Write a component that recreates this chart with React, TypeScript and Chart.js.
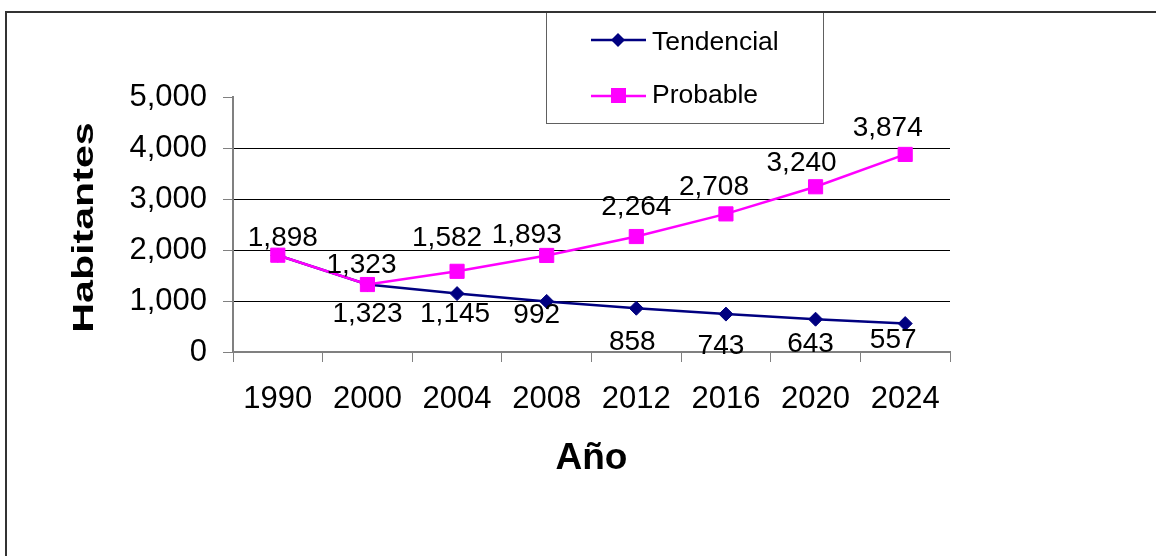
import React, { useEffect, useRef } from 'react';
import { Chart, registerables } from 'chart.js';

Chart.register(...registerables);

// ---- data ----
const years = ['1990', '2000', '2004', '2008', '2012', '2016', '2020', '2024'];
const tendencial = [1898, 1323, 1145, 992, 858, 743, 643, 557];
const probable = [1898, 1323, 1582, 1893, 2264, 2708, 3240, 3874];
const yTickValues = [0, 1000, 2000, 3000, 4000, 5000];
const seriesNames = ['Tendencial', 'Probable'];
const xTitle = 'Año';
const yTitle = 'Habitantes';

// ---- label placement (px nudges from each point; null = no label) ----
const tendencialLabelOffsets: (number[] | null)[] = [null, [0, 37], [-2, 28], [-10, 22], [-4, 42], [-5, 40], [-5, 33], [-12, 24]];
const probableLabelOffsets: (number[] | null)[] = [[5, -9], [-6, -11.5], [-10, -25], [-20, -12.5], [0, -21.5], [-12, -19], [-14, -16], [-17.5, -18]];

const FONT = '"Liberation Sans", Arial, Helvetica, sans-serif';
const NAVY = '#000080';
const MAGENTA = '#FF00FF';
const AXIS_GRAY = '#808080';

const fmt = (v: number) => String(v).replace(/\B(?=(\d{3})+(?!\d))/g, ',');

const decorPlugin = {
  id: 'decor',
  afterDatasetsDraw(chart: any) {
    const ctx = chart.ctx;
    ctx.save();
    ctx.font = `28px ${FONT}`;
    ctx.fillStyle = '#000';
    ctx.textAlign = 'center';
    ctx.textBaseline = 'alphabetic';
    const offsets = [tendencialLabelOffsets, probableLabelOffsets];
    chart.data.datasets.forEach((ds: any, di: number) => {
      const meta = chart.getDatasetMeta(di);
      meta.data.forEach((el: any, i: number) => {
        const o = offsets[di][i];
        if (!o) return;
        ctx.fillText(fmt(ds.data[i]), el.x + o[0], el.y + o[1]);
      });
    });
    ctx.restore();
  },
  afterDraw(chart: any) {
    const ctx = chart.ctx;
    ctx.save();
    // y axis title (stretched like the original)
    const area = chart.chartArea;
    ctx.save();
    ctx.translate(93, (area.top + area.bottom) / 2 + 3);
    ctx.rotate(-Math.PI / 2);
    ctx.scale(1.42, 1);
    ctx.font = `bold 29px ${FONT}`;
    ctx.fillStyle = '#000';
    ctx.textAlign = 'center';
    ctx.textBaseline = 'alphabetic';
    ctx.fillText(yTitle, 0, 0);
    ctx.restore();

    // legend box
    ctx.fillStyle = '#fff';
    ctx.fillRect(546, 12, 277, 111);
    ctx.strokeStyle = '#606060';
    ctx.lineWidth = 1;
    ctx.strokeRect(546.5, 12.5, 277, 111);

    // Tendencial entry
    ctx.strokeStyle = NAVY;
    ctx.lineWidth = 2.5;
    ctx.beginPath();
    ctx.moveTo(591, 40);
    ctx.lineTo(646, 40);
    ctx.stroke();
    ctx.fillStyle = NAVY;
    ctx.beginPath();
    ctx.moveTo(618, 33);
    ctx.lineTo(625, 40);
    ctx.lineTo(618, 47);
    ctx.lineTo(611, 40);
    ctx.closePath();
    ctx.fill();

    // Probable entry
    ctx.strokeStyle = MAGENTA;
    ctx.beginPath();
    ctx.moveTo(591, 96);
    ctx.lineTo(646, 96);
    ctx.stroke();
    ctx.fillStyle = MAGENTA;
    ctx.fillRect(611, 88, 15, 15);

    ctx.fillStyle = '#000';
    ctx.font = `26.5px ${FONT}`;
    ctx.textAlign = 'left';
    ctx.textBaseline = 'alphabetic';
    ctx.fillText(seriesNames[0], 652, 50);
    ctx.fillText(seriesNames[1], 652, 103);

    // outer frame
    ctx.strokeStyle = '#333';
    ctx.lineWidth = 2;
    ctx.beginPath();
    ctx.moveTo(6, 600);
    ctx.lineTo(6, 12);
    ctx.lineTo(1200, 12);
    ctx.stroke();
    ctx.restore();
  },
};

export default function App() {
  const canvasRef = useRef<HTMLCanvasElement | null>(null);

  useEffect(() => {
    if (!canvasRef.current) return;
    const chart = new Chart(canvasRef.current, {
      type: 'line',
      data: {
        labels: years,
        datasets: [
          {
            label: seriesNames[0],
            data: tendencial,
            borderColor: NAVY,
            backgroundColor: NAVY,
            borderWidth: 2.5,
            pointStyle: 'rectRot',
            pointRadius: 7,
            pointBorderWidth: 1,
            pointBackgroundColor: NAVY,
            pointBorderColor: NAVY,
            tension: 0,
            order: 1,
          },
          {
            label: seriesNames[1],
            data: probable,
            borderColor: MAGENTA,
            backgroundColor: MAGENTA,
            borderWidth: 2.5,
            pointStyle: 'rect',
            pointRadius: 10,
            pointBorderWidth: 1,
            pointBackgroundColor: MAGENTA,
            pointBorderColor: MAGENTA,
            tension: 0,
            order: 0,
          },
        ],
      },
      options: {
        responsive: false,
        animation: false,
        devicePixelRatio: 1,
        layout: { padding: { top: 97, right: 206, left: 0, bottom: 0 } },
        plugins: {
          legend: { display: false },
          tooltip: { enabled: false },
        },
        scales: {
          x: {
            type: 'category',
            offset: true,
            grid: {
              display: true,
              drawOnChartArea: false,
              drawTicks: true,
              tickLength: 10,
              tickColor: AXIS_GRAY,
              tickWidth: 1,
              offset: true,
            },
            border: { display: true, color: AXIS_GRAY, width: 2 },
            ticks: {
              font: { size: 31, family: FONT },
              color: '#000',
              padding: 19,
              maxRotation: 0,
              autoSkip: false,
            },
            title: {
              display: true,
              text: xTitle,
              color: '#000',
              font: { size: 37, weight: 'bold', family: FONT },
              padding: { top: 0, bottom: 75 },
            },
            afterFit(scale: any) {
              scale.height = 204;
            },
          },
          y: {
            min: 0,
            max: 5000,
            afterBuildTicks(scale: any) {
              scale.ticks = yTickValues.map((v) => ({ value: v }));
            },
            grid: {
              color: (c: any) =>
                c.tick && c.tick.value === 0 ? AXIS_GRAY : c.tick && c.tick.value === 5000 ? 'rgba(0,0,0,0)' : '#000',
              tickColor: AXIS_GRAY,
              tickLength: 10,
              lineWidth: 1,
            },
            border: { display: true, color: AXIS_GRAY, width: 2 },
            ticks: {
              font: { size: 31, family: FONT },
              color: '#000',
              padding: 16,
              callback: (v: any) => fmt(Number(v)),
            },
            title: { display: false },
            afterFit(scale: any) {
              scale.width = 233;
            },
          },
        },
      },
      plugins: [decorPlugin],
    } as any);
    return () => chart.destroy();
  }, []);

  return (
    <div style={{ position: 'fixed', left: 0, top: 0, width: 1156, height: 556, background: '#fff' }}>
      <canvas ref={canvasRef} width={1156} height={556} style={{ display: 'block' }} />
    </div>
  );
}
